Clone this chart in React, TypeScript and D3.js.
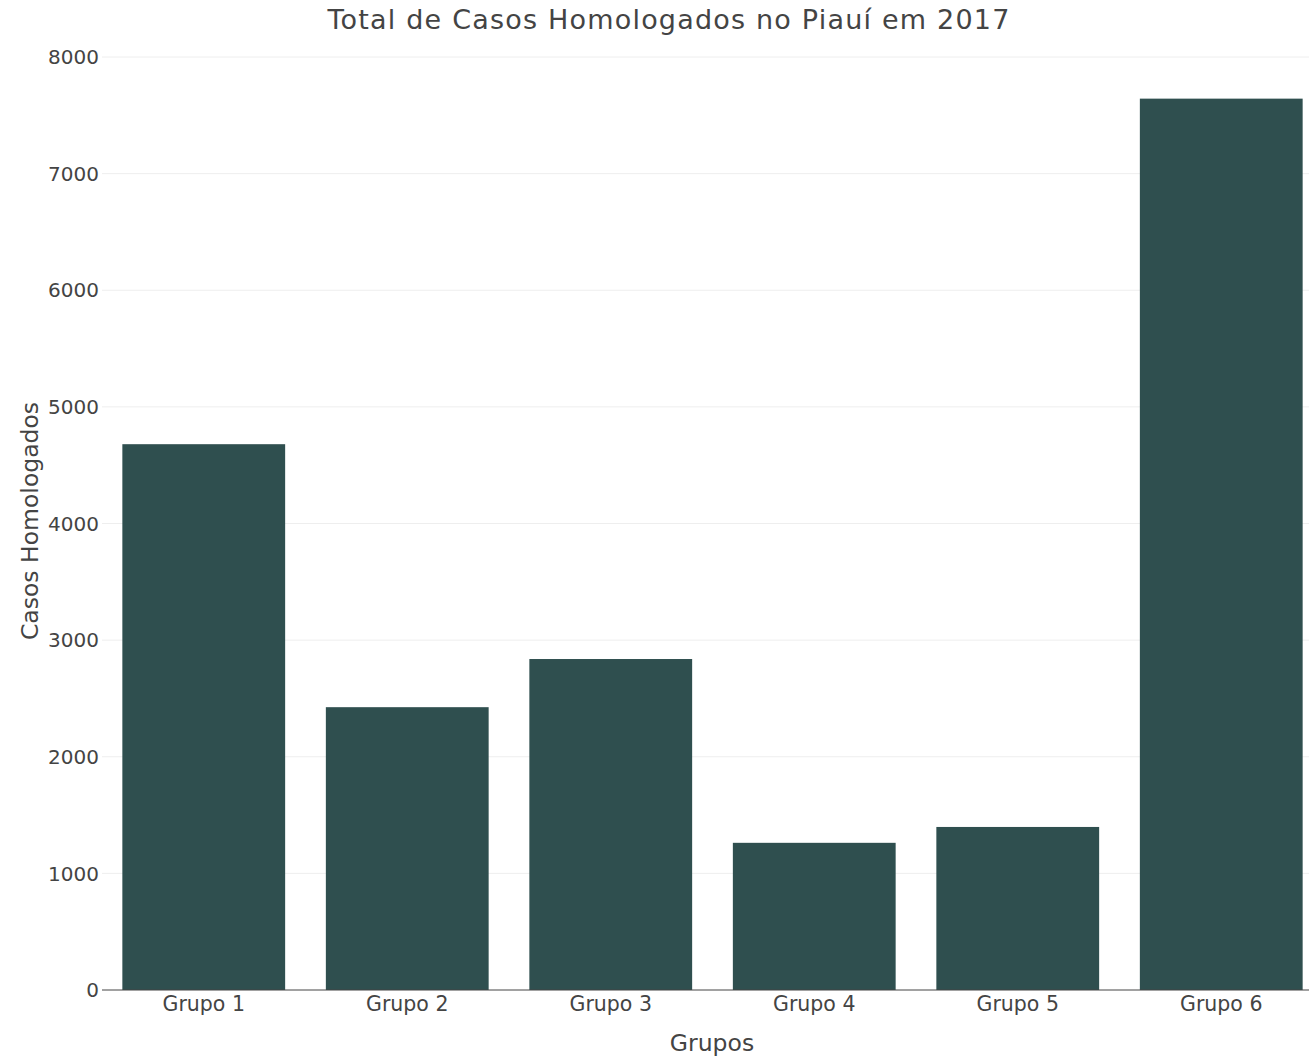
import React from "react";
import * as d3 from "d3";

const categories = ["Grupo 1", "Grupo 2", "Grupo 3", "Grupo 4", "Grupo 5", "Grupo 6"];
const values = [4680, 2425, 2838, 1262, 1398, 7643];
const yTicks = [0, 1000, 2000, 3000, 4000, 5000, 6000, 7000, 8000];

const W = 1309;
const H = 1057;
const left = 102;
const right = 1323;
const top = 57;
const bottom = 990;
const font = "'DejaVu Sans', Verdana, sans-serif";
const textColor = "#444";

export default function App() {
  const x = d3.scaleBand<string>().domain(categories).range([left, right]).paddingInner(0.2).paddingOuter(0.1);
  const y = d3.scaleLinear().domain([0, 8000]).range([bottom, top]);

  return (
    <svg width={W} height={H} style={{ position: "absolute", left: 0, top: 0, background: "#fff" }}>
      <rect x={0} y={0} width={W} height={H} fill="#fff" />
      {yTicks.map((t) => (
        <g key={t}>
          {t !== 0 && (
            <line x1={left} x2={right} y1={y(t)} y2={y(t)} stroke="#eee" strokeWidth={1} />
          )}
          <text
            x={99}
            y={y(t)}
            dy="0.36em"
            textAnchor="end"
            fontFamily={font}
            fontSize={20}
            fill={textColor}
          >
            {t}
          </text>
        </g>
      ))}
      {categories.map((c, i) => (
        <rect
          key={c}
          x={x(c)}
          y={y(values[i])}
          width={x.bandwidth()}
          height={bottom - y(values[i])}
          fill="#2F4F4F"
        />
      ))}
      <line x1={left} x2={right} y1={bottom} y2={bottom} stroke="#444" strokeWidth={1} />
      {categories.map((c) => (
        <text
          key={c}
          x={(x(c) as number) + x.bandwidth() / 2}
          y={1011}
          textAnchor="middle"
          fontFamily={font}
          fontSize={20.5}
          fill={textColor}
        >
          {c}
        </text>
      ))}
      <text x={712} y={1051} textAnchor="middle" fontFamily={font} fontSize={23.5} fill={textColor}>
        Grupos
      </text>
      <text
        transform={`translate(38, 521) rotate(-90)`}
        textAnchor="middle"
        fontFamily={font}
        fontSize={23.5}
        fill={textColor}
      >
        Casos Homologados
      </text>
      <text
        x={669}
        y={29}
        textAnchor="middle"
        fontFamily={font}
        fontSize={27}
        letterSpacing={1.2}
        fill={textColor}
      >
        Total de Casos Homologados no Piauí em 2017
      </text>
    </svg>
  );
}
